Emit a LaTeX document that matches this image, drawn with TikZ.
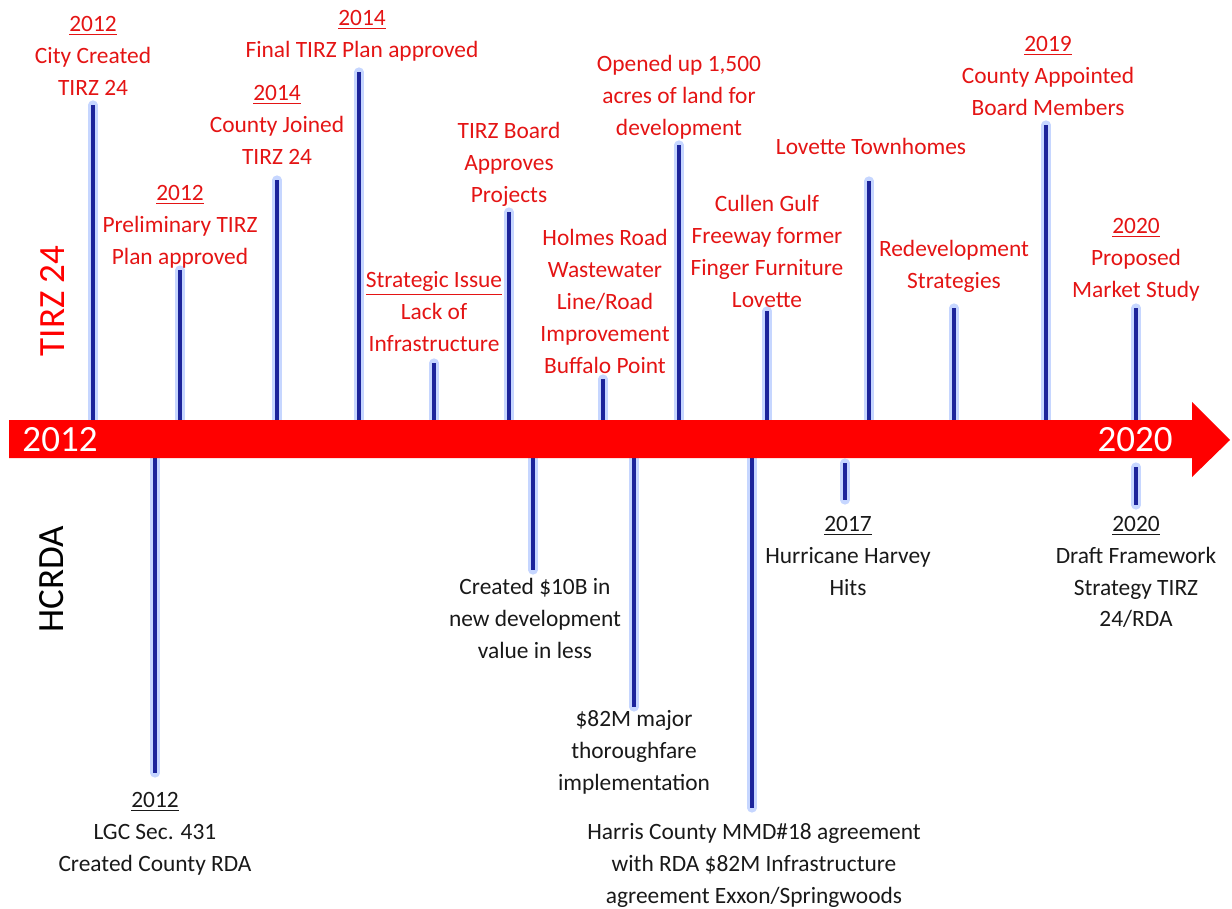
\documentclass[tikz,border=0pt]{standalone}
\usepackage{fontspec}
\setmainfont{Carlito}
\usetikzlibrary{positioning}
\definecolor{barblue}{RGB}{28,36,155}
\definecolor{glowblue}{RGB}{198,214,255}
\definecolor{tirzred}{RGB}{228,20,20}
\tikzset{
	glow/.style={line width=4.6pt, color=glowblue, line cap=round},
	core/.style={line width=2.2pt, color=barblue},
	toplbl/.style={align=center, inner sep=0pt, text=tirzred, font=\fontsize{11.7}{15.9}\selectfont,
		execute at begin node=\strut, execute at end node=\strut},
	botlbl/.style={toplbl, text=black!90},
	yearlbl/.style={text=white, inner sep=0pt, font=\fontsize{18.5}{22}\selectfont},
	sidelbl/.style={rotate=90, inner sep=0pt, font=\fontsize{18.5}{22}\selectfont},
}

\begin{document}
\begin{tikzpicture}[x=0.5pt, y=-0.5pt]
			%%%%% START %%%%%
			\useasboundingbox (0, 0) rectangle (1232, 909);
			
			% bars above the arrow
			\coordinate (a1) at (93, 425);   \coordinate (t1) at (93, 105);
			\coordinate (a2) at (180, 425);  \coordinate (t2) at (180, 270);
			\coordinate (a3) at (277, 425);  \coordinate (t3) at (277, 180);
			\coordinate (a4) at (359, 425);  \coordinate (t4) at (359, 72);
			\coordinate (a5) at (434, 425);  \coordinate (t5) at (434, 363);
			\coordinate (a6) at (509, 425);  \coordinate (t6) at (509, 212);
			\coordinate (a7) at (603, 425);  \coordinate (t7) at (603, 379);
			\coordinate (a8) at (679, 425);  \coordinate (t8) at (679, 145);
			\coordinate (a9) at (767, 425);  \coordinate (t9) at (767, 311);
			\coordinate (a10) at (869, 425); \coordinate (t10) at (869, 181);
			\coordinate (a11) at (954, 425); \coordinate (t11) at (954, 308);
			\coordinate (a12) at (1046, 425); \coordinate (t12) at (1046, 125);
			\coordinate (a13) at (1136, 425); \coordinate (t13) at (1136, 308);
			
			\draw[glow] (a1) -- (t1);   \draw[core] (a1) -- (t1);
			\draw[glow] (a2) -- (t2);   \draw[core] (a2) -- (t2);
			\draw[glow] (a3) -- (t3);   \draw[core] (a3) -- (t3);
			\draw[glow] (a4) -- (t4);   \draw[core] (a4) -- (t4);
			\draw[glow] (a5) -- (t5);   \draw[core] (a5) -- (t5);
			\draw[glow] (a6) -- (t6);   \draw[core] (a6) -- (t6);
			\draw[glow] (a7) -- (t7);   \draw[core] (a7) -- (t7);
			\draw[glow] (a8) -- (t8);   \draw[core] (a8) -- (t8);
			\draw[glow] (a9) -- (t9);   \draw[core] (a9) -- (t9);
			\draw[glow] (a10) -- (t10); \draw[core] (a10) -- (t10);
			\draw[glow] (a11) -- (t11); \draw[core] (a11) -- (t11);
			\draw[glow] (a12) -- (t12); \draw[core] (a12) -- (t12);
			\draw[glow] (a13) -- (t13); \draw[core] (a13) -- (t13);
			
			% bars below the arrow
			\coordinate (c1) at (155, 455); \coordinate (b1) at (155, 773);
			\coordinate (c2) at (533, 455); \coordinate (b2) at (533, 570);
			\coordinate (c3) at (634, 455); \coordinate (b3) at (634, 707);
			\coordinate (c4) at (752, 455); \coordinate (b4) at (752, 808);
			\coordinate (c5) at (845, 463); \coordinate (b5) at (845, 500);
			\coordinate (c6) at (1136, 467); \coordinate (b6) at (1136, 505);
			
			\draw[glow] (c1) -- (b1); \draw[core] (c1) -- (b1);
			\draw[glow] (c2) -- (b2); \draw[core] (c2) -- (b2);
			\draw[glow] (c3) -- (b3); \draw[core] (c3) -- (b3);
			\draw[glow] (c4) -- (b4); \draw[core] (c4) -- (b4);
			\draw[glow] (c5) -- (b5); \draw[core] (c5) -- (b5);
			\draw[glow] (c6) -- (b6); \draw[core] (c6) -- (b6);
			
			% the arrow
			\fill[red] (9, 420) -- (1192, 420) -- (1192, 402) -- (1230, 440)
				-- (1192, 477) -- (1192, 458) -- (9, 458) -- cycle;
			\node[yearlbl] (start) at (60, 440) {2012};
			\node[yearlbl] (end) at (1135, 440) {2020};
			
			\node[sidelbl, text=red] (tirz) at (52, 301) {TIRZ 24};
			\node[sidelbl, text=black] (hcrda) at (52, 579) {HCRDA};
			
			% labels above
			\node[toplbl, above=0pt of t1] (l1) {\underline{2012}\\City Created\\TIRZ 24};
			\node[toplbl, above=-2pt of t2] (l2) {\underline{2012}\\Preliminary TIRZ\\Plan approved};
			\node[toplbl, above=3pt of t3] (l3) {\underline{2014}\\County Joined\\TIRZ 24};
			\node[toplbl, above=2.5pt of t4, xshift=1.5pt] (l4) {\underline{2014}\\Final TIRZ Plan approved};
			\node[toplbl, above=1pt of t5] (l5) {\underline{Strategic Issue}\\Lack of\\Infrastructure};
			\node[toplbl, above=0pt of t6] (l6) {TIRZ Board\\Approves\\Projects};
			\node[toplbl, above=-2pt of t7, xshift=1pt] (l7) {Holmes Road\\Wastewater\\Line/Road\\Improvement\\Buffalo Point};
			\node[toplbl, above=0pt of t8] (l8) {Opened up 1,500\\acres of land for\\development};
			\node[toplbl, above=-3pt of t9] (l9) {Cullen Gulf\\Freeway former\\Finger Furniture\\Lovette};
			\node[toplbl, above=8.5pt of t10, xshift=1pt] (l10) {Lovette Townhomes};
			\node[toplbl, above=5pt of t11] (l11) {Redevelopment\\Strategies};
			\node[toplbl, above=0pt of t12, xshift=1pt] (l12) {\underline{2019}\\County Appointed\\Board Members};
			\node[toplbl, above=0.5pt of t13] (l13) {\underline{2020}\\Proposed\\Market Study};
			
			% labels below
			\node[botlbl, below=9.5pt of b1] (m1) {\underline{2012}\\LGC Sec. 431\\Created County RDA};
			\node[botlbl, below=4pt of b2, xshift=1pt] (m2) {Created \$10B in\\new development\\value in less};
			\node[botlbl, below=1.5pt of b3] (m3) {\$82M major\\thoroughfare\\implementation};
			\node[botlbl, below=7.5pt of b4, xshift=1pt] (m4) {Harris County MMD\#18 agreement\\with RDA \$82M Infrastructure\\agreement Exxon/Springwoods};
			\node[botlbl, below=8pt of b5, xshift=1.5pt] (m5) {\underline{2017}\\Hurricane Harvey\\Hits};
			\node[botlbl, below=5.5pt of b6] (m6) {\underline{2020}\\Draft Framework\\Strategy TIRZ\\24/RDA};
			
			%%%%% END %%%%%
\end{tikzpicture}
\end{document}
